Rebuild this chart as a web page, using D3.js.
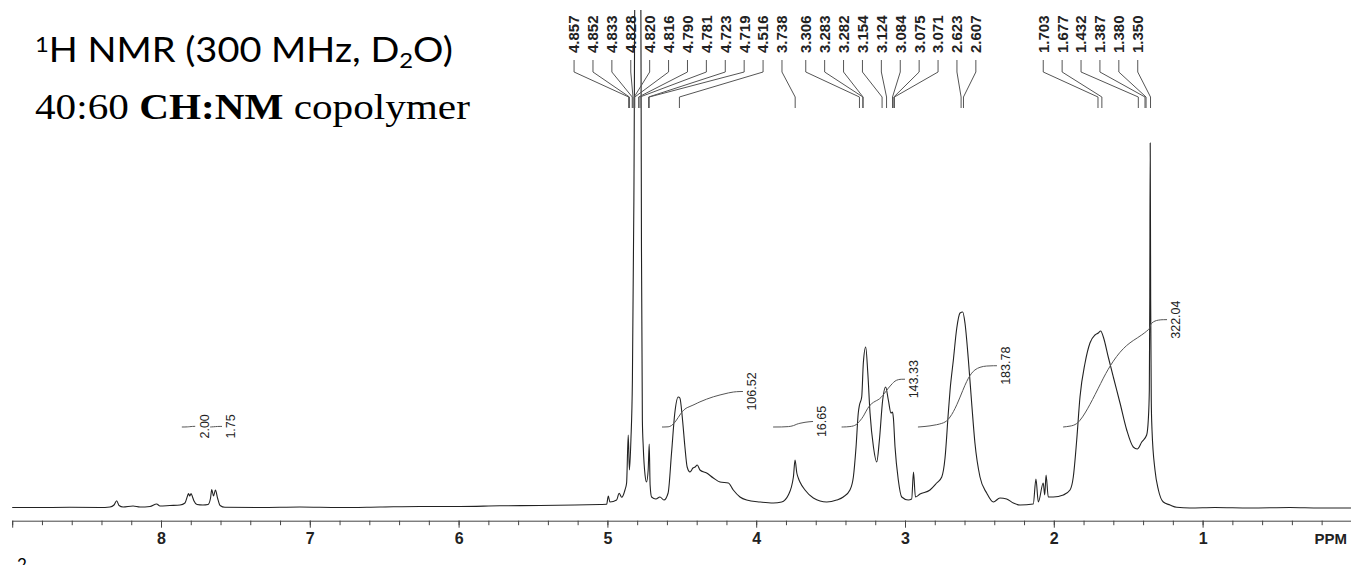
<!DOCTYPE html>
<html>
<head>
<meta charset="utf-8">
<script src="https://cdn.jsdelivr.net/npm/d3@7"></script>
<style>
  body { margin: 0; background: #fff; }
  svg { display: block; }
</style>
</head>
<body>
<div id="chart"></div>
<script>
// spectrum trace: [ppm, intensity (arbitrary units)]
const spectrum = [
  [9.000,0.5],[8.815,0.5],[8.612,0.7],[8.410,0.5],[8.343,1],[8.316,3],[8.298,7.3],[8.282,2.5],
  [8.255,1],[8.188,2],[8.141,1],[8.074,1.5],[8.029,4],[8.007,2],[7.940,2.5],[7.872,3],[7.839,5],
  [7.822,12],[7.815,14.5],[7.807,12],[7.798,14.5],[7.788,11],[7.778,7],[7.758,3.5],[7.718,3],
  [7.684,3.5],[7.667,10],[7.659,18.5],[7.647,12],[7.634,18],[7.620,10],[7.603,2.5],[7.570,0.7],
  [7.335,0.5],[7.066,1],[6.797,0.5],[6.528,1],[6.259,1.5],[5.991,1.5],[5.722,2.2],[5.453,2.5],
  [5.218,3],[5.050,3.5],[5.005,3.7],[4.994,12],[4.983,6],[4.938,8],[4.921,14.7],[4.904,10.7],
  [4.882,18],[4.871,25],[4.860,73],[4.852,38],[4.842,68],[4.832,128],[4.822,308],[4.812,600],
  [4.802,600],[4.785,600],[4.777,600],[4.771,258],[4.765,88],[4.759,61],[4.747,33],[4.737,26],
  [4.726,38],[4.719,64],[4.713,23],[4.703,11],[4.674,9],[4.647,11],[4.620,8],[4.592,15],
  [4.569,55],[4.547,95],[4.524,111],[4.513,110],[4.495,88],[4.479,61],[4.464,41],[4.445,36],
  [4.425,40],[4.411,41],[4.396,43],[4.378,38],[4.333,35],[4.288,30],[4.243,26],[4.187,25],
  [4.154,18],[4.109,11],[4.064,8],[3.974,6],[3.885,5],[3.829,6],[3.784,13],[3.750,31],
  [3.739,48],[3.727,35],[3.717,30],[3.706,26],[3.672,18],[3.616,10],[3.526,6],[3.459,8],
  [3.415,11],[3.370,18],[3.347,31],[3.329,61],[3.314,95],[3.306,103],[3.291,111],[3.280,145],
  [3.264,161],[3.250,135],[3.235,95],[3.212,61],[3.190,46],[3.172,68],[3.150,108],[3.130,121],
  [3.112,108],[3.094,95],[3.084,96],[3.078,90],[3.067,61],[3.045,28],[3.022,11],[2.978,8],
  [2.955,9],[2.943,36],[2.930,11],[2.899,14],[2.832,18],[2.787,25],[2.753,31],[2.731,50],
  [2.709,95],[2.697,118],[2.675,148],[2.652,180],[2.630,195],[2.612,196],[2.597,185],[2.574,148],
  [2.552,105],[2.530,65],[2.496,31],[2.451,15],[2.406,6],[2.362,10],[2.317,9],[2.272,5],
  [2.227,3],[2.138,4],[2.120,29],[2.104,6],[2.071,25],[2.061,13],[2.052,33],[2.037,11],
  [2.003,11],[1.936,13],[1.891,18],[1.869,31],[1.846,68],[1.824,111],[1.790,145],[1.757,165],
  [1.723,173],[1.701,175],[1.685,177],[1.667,171],[1.634,151],[1.600,131],[1.555,105],[1.510,78],
  [1.466,61],[1.439,59],[1.409,66],[1.376,73],[1.365,88],[1.358,118],[1.355,208],[1.352,365],
  [1.349,208],[1.345,108],[1.340,78],[1.320,38],[1.297,18],[1.264,6],[1.219,3],[1.174,0.7],
  [1.085,0],[0.917,0.5],[0.682,0],[0.413,0.5],[0.212,0],[0.003,0]
];

// peak picking labels, three clusters
const peaksA = [4.857, 4.852, 4.833, 4.828, 4.820, 4.816, 4.790, 4.781, 4.723, 4.719, 4.516, 3.738];
const peaksB = [3.306, 3.283, 3.282, 3.154, 3.124, 3.084, 3.075, 3.071, 2.623, 2.607];
const peaksC = [1.703, 1.677, 1.432, 1.387, 1.380, 1.350];

// integrals
const integralFrom  = [7.86, 7.67, 4.633, 3.887, 3.426, 2.913, 1.938];
const integralTo    = [7.77, 7.59, 4.089, 3.618, 3.000, 2.382, 1.239];
const integralValue = [2.00, 1.75, 106.52, 16.65, 143.33, 183.78, 322.04];

const tickLabels = [8, 7, 6, 5, 4, 3, 2, 1];

// layout
const width = 1351, height = 565;
const axisY = 520.7;
const labelGap = 18.9;                    // spacing of peak labels, px
const labelStart = [5.224, 3.667, 2.071]; // where each label column begins (ppm)

const svg = d3.select("#chart").append("svg")
    .attr("width", width)
    .attr("height", height);

const x = d3.scaleLinear().domain([9, 0]).range([12.2, 1351.4]);
const y = d3.scaleLinear().domain([0, 500]).range([508, 8]);
const yInt = d3.scaleLinear().domain([0, 300]).range([427, 327]);

// clip so the solvent peak runs off the top
svg.append("clipPath").attr("id", "clip")
  .append("rect").attr("x", 0).attr("y", 10).attr("width", width).attr("height", height);

// spectrum
const line = d3.line()
    .x(d => x(d[0]))
    .y(d => y(d[1]))
    .curve(d3.curveMonotoneX);

svg.append("path")
    .datum(spectrum)
    .attr("clip-path", "url(#clip)")
    .attr("d", line)
    .attr("fill", "none")
    .attr("stroke", "#222")
    .attr("stroke-width", 1.1);

// integrals: running sum of the trace over each range
function valueAt(p) {
  for (let i = 1; i < spectrum.length; i++) {
    const a = spectrum[i - 1], b = spectrum[i];
    if (p <= a[0] && p >= b[0]) {
      const t = (a[0] - p) / (a[0] - b[0]);
      return a[1] + t * (b[1] - a[1]);
    }
  }
  return 0;
}

function integralPoints(from, to, value) {
  const pts = [[from, valueAt(from)]]
    .concat(spectrum.filter(d => d[0] < from && d[0] > to))
    .concat([[to, valueAt(to)]]);
  const base = Math.min(pts[0][1], pts[pts.length - 1][1]);
  let sum = 0;
  const cum = [0];
  for (let i = 1; i < pts.length; i++) {
    const h0 = Math.max(0, pts[i - 1][1] - base), h1 = Math.max(0, pts[i][1] - base);
    sum += (pts[i - 1][0] - pts[i][0]) * (h0 + h1) / 2;
    cum.push(sum);
  }
  return pts.map((d, i) => [d[0], sum > 0 ? cum[i] / sum * value : 0]);
}

const intLine = d3.line()
    .x(d => x(d[0]))
    .y(d => yInt(d[1]))
    .curve(d3.curveMonotoneX);

integralValue.forEach((v, i) => {
  const pts = integralPoints(integralFrom[i], integralTo[i], v);
  svg.append("path")
      .datum(pts)
      .attr("d", intLine)
      .attr("fill", "none")
      .attr("stroke", "#555")
      .attr("stroke-width", 1);

  const ex = x(integralTo[i]) + 9;
  const ey = yInt(v);
  svg.append("text")
      .attr("transform", `translate(${ex},${ey}) rotate(-90)`)
      .attr("text-anchor", "middle")
      .attr("dy", "0.35em")
      .style("font-family", "'Liberation Sans', Arial, sans-serif")
      .style("font-size", "12.5px")
      .attr("fill", "#222")
      .text(v.toFixed(2));
});

// peak labels with leader lines
[peaksA, peaksB, peaksC].forEach((group, g) => {
  const x0 = x(labelStart[g]);
  group.forEach((p, i) => {
    const lx = x0 + i * labelGap;
    const px = x(p);
    svg.append("path")
        .attr("d", `M${lx},60 L${lx},72 L${px},97 L${px},108`)
        .attr("fill", "none")
        .attr("stroke", "#555")
        .attr("stroke-width", 1);
    svg.append("text")
        .attr("transform", `translate(${lx},53) rotate(-90)`)
        .attr("dy", "0.36em")
        .style("font-family", "'Liberation Sans', Arial, sans-serif")
        .style("font-size", "15px")
        .style("font-weight", "bold")
        .attr("fill", "#222")
        .text(p.toFixed(3));
  });
});

// ppm axis
const minor = svg.append("g")
    .attr("transform", `translate(0,${axisY})`)
    .call(d3.axisBottom(x)
      .tickValues(d3.range(0, 46).map(i => i / 5))
      .tickSize(4.5)
      .tickSizeOuter(0)
      .tickFormat(""));
minor.select(".domain").attr("stroke", "#444");
minor.selectAll(".tick line").attr("stroke", "#444");

const major = svg.append("g")
    .attr("transform", `translate(0,${axisY})`)
    .call(d3.axisBottom(x)
      .tickValues(tickLabels.concat([9]))
      .tickSize(7)
      .tickSizeOuter(0)
      .tickFormat(d => d === 9 ? "" : d));
major.select(".domain").remove();
major.selectAll(".tick line").attr("stroke", "#444");
major.selectAll(".tick text")
    .attr("y", 23.3)
    .attr("dy", 0)
    .style("font-family", "'Liberation Sans Narrow', 'Liberation Sans', Arial, sans-serif")
    .style("font-size", "16px")
    .style("font-weight", "bold")
    .attr("fill", "#222");

svg.append("text")
    .attr("x", 1347)
    .attr("y", axisY + 23.3)
    .attr("text-anchor", "end")
    .style("font-family", "'Liberation Sans Narrow', 'Liberation Sans', Arial, sans-serif")
    .style("font-size", "15px")
    .style("font-weight", "bold")
    .attr("fill", "#222")
    .text("PPM");

// title
function fitWidth(sel, x0, target) {
  const bb = sel.node().getBBox();
  const k = target / bb.width;
  sel.attr("transform", `translate(${x0},0) scale(${k},1) translate(${-bb.x},0)`);
}

const t1 = svg.append("text")
    .attr("x", 0).attr("y", 61.7)
    .style("font-family", "Lato, 'Open Sans', sans-serif")
    .style("font-size", "35px")
    .attr("fill", "#000");
t1.append("tspan").style("font-size", "22px").attr("dy", -10).text("1");
t1.append("tspan").attr("dy", 10).text("H NMR (300 MHz, D");
t1.append("tspan").style("font-size", "22px").attr("dy", 6).text("2");
t1.append("tspan").attr("dy", -6).text("O)");
fitWidth(t1, 35, 418);

const t2 = svg.append("text")
    .attr("x", 0).attr("y", 119.3)
    .style("font-family", "'Liberation Serif', 'Times New Roman', serif")
    .style("font-size", "36px")
    .attr("fill", "#000");
t2.append("tspan").text("40:60 ");
t2.append("tspan").style("font-weight", "bold").text("CH:NM");
t2.append("tspan").text(" copolymer");
fitWidth(t2, 35, 435);

// clipped caption glyph at the bottom edge
svg.append("text")
    .attr("x", 17).attr("y", 571)
    .style("font-family", "Lato, sans-serif")
    .style("font-size", "17px")
    .attr("fill", "#000")
    .text("2");
</script>
</body>
</html>
